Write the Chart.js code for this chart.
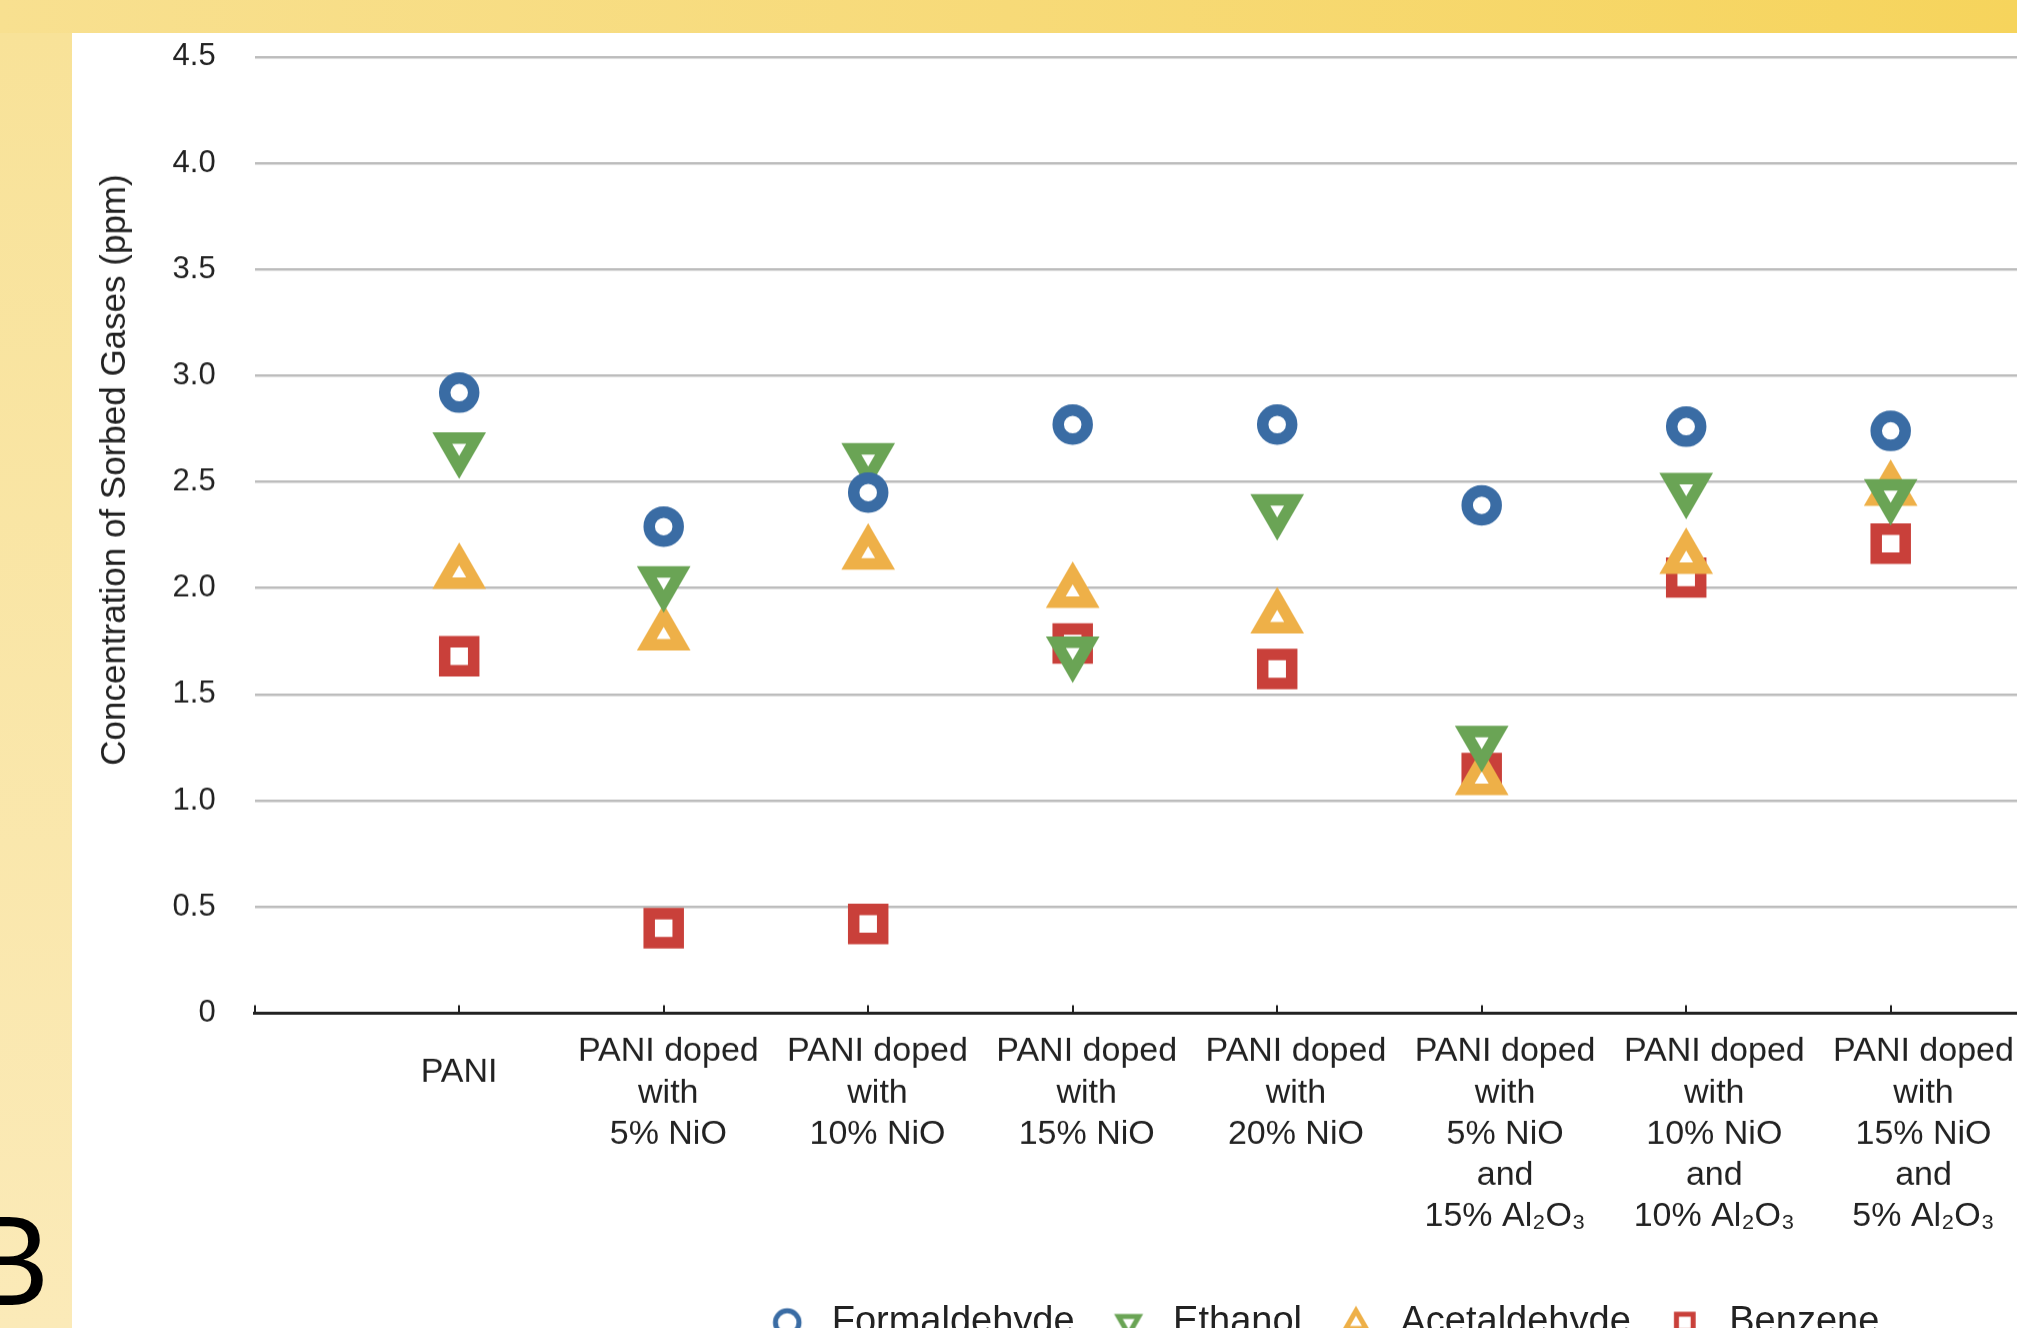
<!DOCTYPE html>
<html>
<head>
<meta charset="utf-8">
<script src="https://cdn.jsdelivr.net/npm/chart.js@4.4.1/dist/chart.umd.min.js"></script>
<style>
  html, body { margin: 0; padding: 0; width: 2017px; height: 1328px; overflow: hidden; }
  body { position: relative; background: linear-gradient(to right, #f8e090 0%, #f7da78 50%, #f6d45c 100%); }
  #strip { position: absolute; left: 0; top: 33px; width: 72px; height: 1295px;
           background: linear-gradient(to bottom, #f8e298, #fbeab8); }
  #panel { position: absolute; left: 72px; top: 33px; width: 1945px; height: 1295px; background: #fff; }
  #wrap { position: absolute; left: 72px; top: 33px; width: 2497px; height: 1317.5px; }
  #ytitle { position: absolute; left: 113px; top: 470px; transform: translate(-50%, -50%) rotate(-90deg);
            white-space: nowrap; font: 35px "Liberation Sans", Arial, sans-serif; color: #222; }
  #letter { position: absolute; left: -30px; top: 1197px; font: 122px/1 Lato, sans-serif; color: #000; }
</style>
</head>
<body>
<div id="strip"></div>
<div id="panel"></div>
<div id="wrap"><canvas id="chart"></canvas></div>
<div id="ytitle">Concentration of Sorbed Gases (ppm)</div>
<div id="letter">B</div>
<script>
const categories = [
  'PANI',
  ['PANI doped', 'with', '5% NiO'],
  ['PANI doped', 'with', '10% NiO'],
  ['PANI doped', 'with', '15% NiO'],
  ['PANI doped', 'with', '20% NiO'],
  ['PANI doped', 'with', '5% NiO', 'and', '15% Al₂O₃'],
  ['PANI doped', 'with', '10% NiO', 'and', '10% Al₂O₃'],
  ['PANI doped', 'with', '15% NiO', 'and', '5% Al₂O₃']
];

const formaldehyde = [2.92, 2.29, 2.45, 2.77, 2.77, 2.39, 2.76, 2.74];
const ethanol      = [2.66, 2.03, 2.61, 1.70, 2.37, 1.28, 2.47, 2.44];
const acetaldehyde = [2.07, 1.78, 2.16, 1.98, 1.86, 1.10, 2.14, 2.46];
const benzene      = [1.68, 0.40, 0.42, 1.74, 1.62, 1.13, 2.05, 2.21];

const FONT = '"Liberation Sans", Arial, Helvetica, sans-serif';
const CANVAS_W = 2497;
const PLOT_LEFT = 182.7;    // where the value axis ends and the plot starts
const POINT_STEP = 204.5;   // px between sample columns
const LABEL_STEP = 209.2;   // the category texts sit on a slightly wider pitch
const LABEL_ORIGIN = 177.9;

const plotWidth = CANVAS_W - PLOT_LEFT;
const labelMin = (PLOT_LEFT - LABEL_ORIGIN) / LABEL_STEP;

function toPoints(values) {
  return values.map((v, i) => ({ x: i + 1, y: v }));
}

function markerSet(label, values, color, style, radius, rotation) {
  return {
    label: label,
    data: toPoints(values),
    pointStyle: style,
    pointRadius: radius,
    pointHoverRadius: radius,
    pointRotation: rotation,
    pointBorderWidth: 11.5,
    pointBorderColor: color,
    pointBackgroundColor: '#fff',
    borderColor: color,
    backgroundColor: '#fff'
  };
}

// small legend symbols, thinner than the plotted ones
function legendMarker(style, color, rotation) {
  const c = document.createElement('canvas');
  c.width = 40;
  c.height = 40;
  const g = c.getContext('2d');
  g.strokeStyle = color;
  g.fillStyle = '#fff';
  g.lineWidth = 5;
  Chart.helpers.drawPoint(g, { pointStyle: style, radius: 11.8, rotation: rotation, borderWidth: 5 }, 20, 20);
  return c;
}

const datasets = [
  markerSet('Formaldehyde', formaldehyde, '#3a6ca4', 'circle', 14.5, 0),
  markerSet('Ethanol', ethanol, '#6aa455', 'triangle', 19.5, 180),
  markerSet('Acetaldehyde', acetaldehyde, '#eeb048', 'triangle', 19.5, 0),
  markerSet('Benzene', benzene, '#c9403a', 'rect', 20.5, 0)
];
const legendIcons = datasets.map(d => legendMarker(d.pointStyle, d.pointBorderColor, d.pointRotation));

new Chart(document.getElementById('chart'), {
  type: 'scatter',
  data: { datasets: datasets },
  options: {
    responsive: true,
    maintainAspectRatio: false,
    animation: false,
    events: [],
    layout: { autoPadding: false, padding: { top: 23.8, left: 0, right: 0, bottom: 0 } },
    scales: {
      x: {
        type: 'linear',
        weight: 0,
        min: 0,
        max: plotWidth / POINT_STEP,
        afterBuildTicks: function(scale) {
          const ticks = [];
          for (let i = 0; i <= Math.floor(scale.max); i++) ticks.push({ value: i });
          scale.ticks = ticks;
        },
        ticks: { display: false },
        grid: { drawOnChartArea: false, drawTicks: true, tickLength: -8, color: '#222', lineWidth: 2 },
        border: { display: true, color: '#222', width: 3 },
        afterFit: function(scale) { scale.height = 0; }
      },
      xl: {
        type: 'linear',
        axis: 'x',
        position: 'bottom',
        weight: 1,
        min: labelMin,
        max: labelMin + plotWidth / LABEL_STEP,
        afterBuildTicks: function(scale) {
          scale.ticks = categories.map((c, i) => ({ value: i + 1 }));
        },
        ticks: {
          autoSkip: false,
          maxRotation: 0,
          padding: 18,
          color: '#222',
          // a one-line label sits lower than the first line of the stacked ones
          font: ctx => ({
            family: FONT,
            size: 34,
            lineHeight: Array.isArray(categories[ctx.index]) ? 1.21 : 2.42
          }),
          callback: function(value, index) { return categories[index]; }
        },
        grid: { display: false, drawTicks: false },
        border: { display: false },
        afterFit: function(scale) { scale.height = 261.5; }
      },
      y: {
        min: 0,
        max: 4.5,
        ticks: {
          stepSize: 0.5,
          padding: 0,
          color: '#222',
          font: { family: FONT, size: 31 },
          callback: v => v === 0 ? '0' : v.toFixed(1)
        },
        grid: {
          drawTicks: true,
          tickLength: 39,
          tickColor: 'rgba(0,0,0,0)',
          lineWidth: 2.5,
          color: ctx => ctx.tick && ctx.tick.value === 0 ? 'rgba(0,0,0,0)' : '#bcbcbc'
        },
        border: { display: false },
        afterFit: function(scale) { scale.width = PLOT_LEFT; }
      }
    },
    plugins: {
      legend: {
        position: 'bottom',
        labels: {
          usePointStyle: true,
          pointStyleWidth: 51,
          boxHeight: 16,
          padding: 28.5,
          color: '#222',
          font: { family: FONT, size: 38 },
          generateLabels: function(chart) {
            const items = Chart.defaults.plugins.legend.labels.generateLabels(chart);
            items.forEach(item => {
              item.pointStyle = legendIcons[item.datasetIndex];
              item.rotation = 0;
              item.lineWidth = 5;
            });
            return items;
          }
        }
      },
      tooltip: { enabled: false }
    }
  }
});
</script>
</body>
</html>
